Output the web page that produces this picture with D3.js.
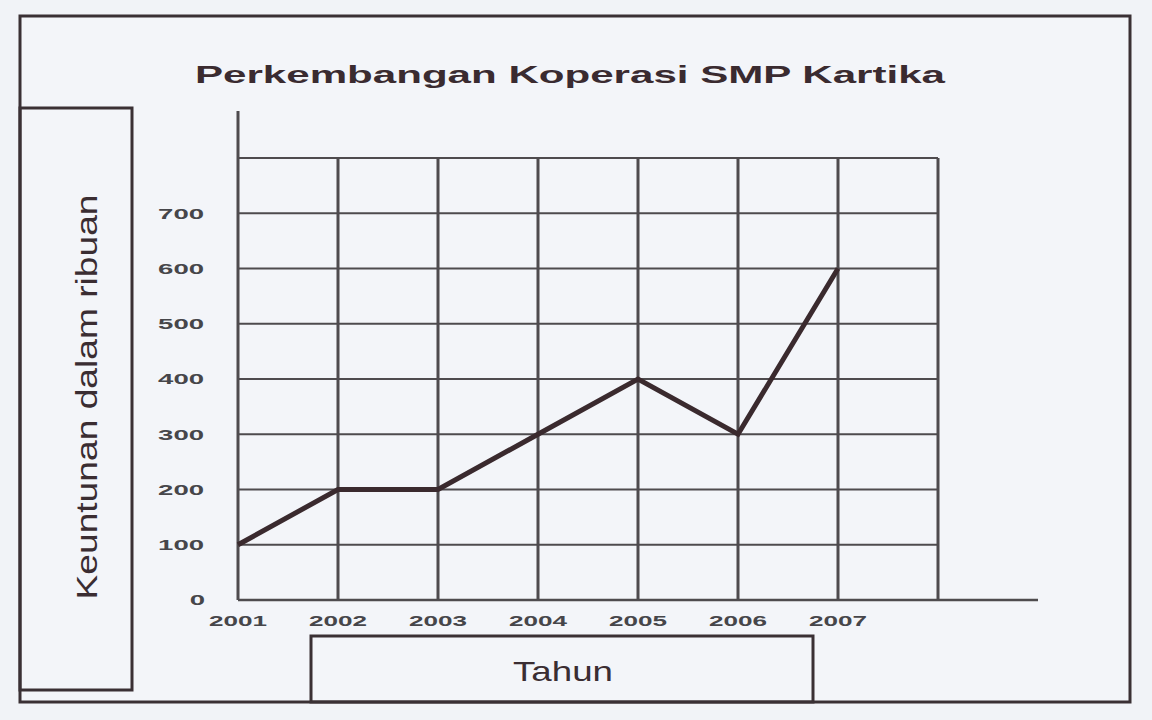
<!DOCTYPE html>
<html>
<head>
<meta charset="utf-8">
<script src="https://cdn.jsdelivr.net/npm/d3@7"></script>
<style>
  html, body { margin: 0; padding: 0; background: #f1f3f7; }
  svg { display: block; }
</style>
</head>
<body>
<svg id="chart" width="1152" height="720"></svg>
<script>
// ---- data ----
const years = [2001, 2002, 2003, 2004, 2005, 2006, 2007];
const profits = [100, 200, 200, 300, 400, 300, 600];
const yTicks = [0, 100, 200, 300, 400, 500, 600, 700];
const titleText = "Perkembangan Koperasi SMP Kartika";
const yLabelText = "Keuntunan dalam ribuan";
const xLabelText = "Tahun";

const svg = d3.select("#chart");
const ink = "#3a3034";
const gridCol = "#4e4b4e";

svg.append("rect").attr("width", 1152).attr("height", 720).attr("fill", "#f1f3f7");

// outer frame
svg.append("rect").attr("x", 20).attr("y", 16).attr("width", 1110).attr("height", 686)
  .attr("fill", "#f3f5f9").attr("stroke", ink).attr("stroke-width", 3);

// y-label box
svg.append("rect").attr("x", 20).attr("y", 108).attr("width", 112).attr("height", 582)
  .attr("fill", "none").attr("stroke", ink).attr("stroke-width", 3);
svg.append("text")
  .attr("transform", "translate(97,397) rotate(-90)")
  .attr("text-anchor", "middle")
  .attr("font-family", "Liberation Sans, Arial, sans-serif")
  .attr("font-size", 29)
  .attr("fill", "#3a2d32")
  .attr("textLength", 405).attr("lengthAdjust", "spacingAndGlyphs")
  .text(yLabelText);

// x-label box
svg.append("rect").attr("x", 311).attr("y", 636).attr("width", 502).attr("height", 66)
  .attr("fill", "none").attr("stroke", ink).attr("stroke-width", 3);
svg.append("text")
  .attr("x", 563).attr("y", 681)
  .attr("text-anchor", "middle")
  .attr("font-family", "Liberation Sans, Arial, sans-serif")
  .attr("font-size", 28)
  .attr("fill", "#3a2d32")
  .attr("textLength", 100).attr("lengthAdjust", "spacingAndGlyphs")
  .text(xLabelText);

// title
svg.append("text")
  .attr("x", 570).attr("y", 83)
  .attr("text-anchor", "middle")
  .attr("font-family", "Liberation Sans, Arial, sans-serif")
  .attr("font-weight", "bold")
  .attr("font-size", 24)
  .attr("fill", "#3a2b30")
  .attr("textLength", 750).attr("lengthAdjust", "spacingAndGlyphs")
  .text(titleText);

// scales
const x = d3.scaleLinear().domain([2001, 2008]).range([238, 938]);
const y = d3.scaleLinear().domain([0, 800]).range([600, 158]);

const g = svg.append("g");

// horizontal gridlines (100..800)
const hLines = d3.range(100, 801, 100);
g.selectAll("line.h").data(hLines).join("line")
  .attr("x1", x(2001)).attr("x2", x(2008))
  .attr("y1", d => y(d)).attr("y2", d => y(d))
  .attr("stroke", gridCol).attr("stroke-width", 2);

// vertical gridlines 2002..2008
const vLines = d3.range(2002, 2009);
g.selectAll("line.v").data(vLines).join("line")
  .attr("x1", d => x(d)).attr("x2", d => x(d))
  .attr("y1", y(0)).attr("y2", y(800))
  .attr("stroke", gridCol).attr("stroke-width", 3);

// x axis baseline (extends beyond grid)
g.append("line")
  .attr("x1", x(2001)).attr("x2", x(2009))
  .attr("y1", y(0)).attr("y2", y(0))
  .attr("stroke", gridCol).attr("stroke-width", 2.5);

// y axis line (extends above grid)
g.append("line")
  .attr("x1", x(2001)).attr("x2", x(2001))
  .attr("y1", y(0)).attr("y2", y(885))
  .attr("stroke", gridCol).attr("stroke-width", 3);

// y tick labels
g.selectAll("text.yt").data(yTicks).join("text")
  .attr("x", d => d === 0 ? 205 : 204)
  .attr("y", d => y(d))
  .attr("dy", "0.35em")
  .attr("text-anchor", "end")
  .attr("font-family", "Liberation Sans, Arial, sans-serif")
  .attr("font-weight", "bold")
  .attr("font-size", 15)
  .attr("fill", "#46464a")
  .attr("textLength", d => String(d).length * 15.3)
  .attr("lengthAdjust", "spacingAndGlyphs")
  .text(d => d);

// x tick labels
g.selectAll("text.xt").data(years).join("text")
  .attr("x", d => x(d))
  .attr("y", 626)
  .attr("text-anchor", "middle")
  .attr("font-family", "Liberation Sans, Arial, sans-serif")
  .attr("font-weight", "bold")
  .attr("font-size", 15)
  .attr("fill", "#46464a")
  .attr("textLength", 58)
  .attr("lengthAdjust", "spacingAndGlyphs")
  .text(d => d);

// data line
const line = d3.line().x((d, i) => x(years[i])).y(d => y(d));
g.append("path")
  .datum(profits)
  .attr("d", line)
  .attr("fill", "none")
  .attr("stroke", "#3a2a2e")
  .attr("stroke-width", 5)
  .attr("stroke-linejoin", "miter");
</script>
</body>
</html>
